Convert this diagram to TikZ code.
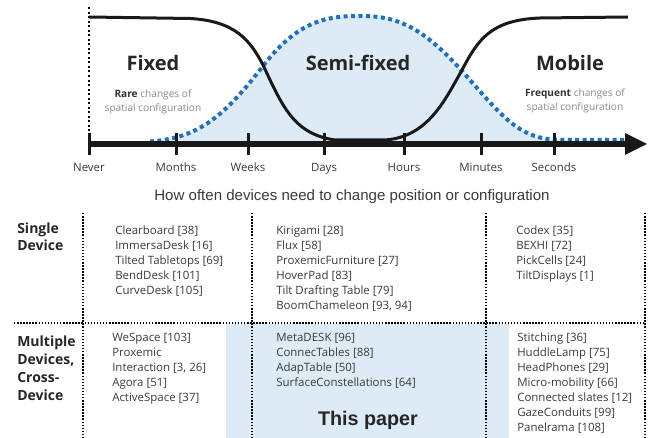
\documentclass[tikz,border=0pt]{standalone}
\usepackage{xcolor}
\usepackage{fontspec}
\setmainfont{Open Sans}
\newfontfamily\arialfont{Liberation Sans}
\usepackage{tikz}

\definecolor{dotblue}{HTML}{1F70C1}
\definecolor{paleblue}{HTML}{DDEBF6}
\definecolor{labelgray}{HTML}{3A3A3A}
\definecolor{notegray}{HTML}{8A8A8A}

\tikzset{
  refs/.style={anchor=north west, align=left, text=labelgray, font=\fontsize{8.6}{11.25}\selectfont},
  rowhead/.style={anchor=north west, align=left, text=black!85, font=\fontsize{10.5}{12.75}\selectfont\bfseries},
  zone/.style={anchor=base, text=black!85, font=\fontsize{15}{18}\selectfont\bfseries},
  note/.style={anchor=north, align=center, text=notegray, font=\fontsize{7.6}{10.5}\selectfont},
  ticklabel/.style={anchor=base, text=labelgray, font=\fontsize{8.6}{10}\selectfont},
  griddots/.style={line width=1.1pt, dash pattern=on 1.1pt off 1.2pt},
}

\begin{document}
\begin{tikzpicture}[x=0.75pt,y=0.75pt]
		\tikzstyle{every node}+=[inner sep=0pt]
		\useasboundingbox (0,0) rectangle (651,-438);
		% band under the semi-fixed curve
		\fill [paleblue] (150,-141.5) .. controls (200,-138) and (225,-115) .. (263,-66) .. controls (300,-18) and (330,-16) .. (362,-16) .. controls (400,-16) and (425,-30) .. (463,-72) .. controls (505,-120) and (520,-139) .. (560,-140) -- (627,-140) -- (627,-144) -- (150,-144) -- cycle;
		\draw [dotblue, line width=3pt, dash pattern=on 3pt off 2.6pt] (150,-141.5) .. controls (200,-138) and (225,-115) .. (263,-66) .. controls (300,-18) and (330,-16) .. (362,-16) .. controls (400,-16) and (425,-30) .. (463,-72) .. controls (505,-120) and (520,-139) .. (560,-140) -- (627,-140);
		% fixed / mobile curve
		\draw [black!90, line width=2.25pt] (89,-17) -- (190,-18.5) .. controls (235,-21) and (250,-40) .. (263,-65) .. controls (282,-105) and (293,-134) .. (335,-140) -- (385,-140) .. controls (428,-137) and (445,-100) .. (462,-70) .. controls (478,-40) and (490,-20) .. (540,-18) -- (628,-17);
		\draw [black, line width=1.5pt, dash pattern=on 1.5pt off 1.9pt] (89,-7) -- (89,-143);
		% axis
		\coordinate (axisstart) at (89,-144);
		\coordinate (axisend) at (626,-144);
		\draw [black!90, line width=4.5pt] (axisstart) -- (axisend);
		\fill [black!90] (647,-144) -- (625,-133) -- (625,-155) -- cycle;
		\draw [black!90, line width=2.25pt] (89,-133) -- (89,-155);
		\draw [black!90, line width=2.25pt] (176,-133) -- (176,-155);
		\draw [black!90, line width=2.25pt] (248,-133) -- (248,-155);
		\draw [black!90, line width=2.25pt] (324,-133) -- (324,-155);
		\draw [black!90, line width=2.25pt] (404,-133) -- (404,-155);
		\draw [black!90, line width=2.25pt] (481,-133) -- (481,-155);
		\draw [black!90, line width=2.25pt] (554,-133) -- (554,-155);
		\node [ticklabel] (never) at (89,-172) {Never};
		\node [ticklabel] (months) at (176,-172) {Months};
		\node [ticklabel] (weeks) at (248,-172) {Weeks};
		\node [ticklabel] (days) at (324,-172) {Days};
		\node [ticklabel] (hours) at (404,-172) {Hours};
		\node [ticklabel] (minutes) at (481,-172) {Minutes};
		\node [ticklabel] (seconds) at (554,-172) {Seconds};
		\node [anchor=base, text=labelgray, font=\arialfont\fontsize{11.3}{13}\selectfont] (axistitle) at (352,-201) {How often devices need to change position or configuration};
		% zones
		\node [zone] (fixed) at (153,-71) {Fixed};
		\node [note] (fixednote) at (153,-89) {\textcolor{black!80}{\bfseries Rare} changes of\\spatial configuration};
		\node [zone] (semifixed) at (358,-71) {Semi-fixed};
		\node [zone] (mobile) at (570,-71) {Mobile};
		\node [note] (mobilenote) at (575,-88) {\textcolor{black!80}{\bfseries Frequent} changes of\\spatial configuration};
		% table
		\fill [paleblue] (226,-324) rectangle (509,-438);
		\draw [griddots] (14,-323) -- (645,-323);
		\draw [griddots] (83,-213) -- (83,-438);
		\draw [griddots] (252,-213) -- (252,-438);
		\draw [griddots] (486,-213) -- (486,-438);
		\draw [griddots] (645,-213) -- (645,-438);
		\node [rowhead] (single) at (17,-223) {Single\\Device};
		\node [rowhead, font=\fontsize{10.5}{13.5}\selectfont\bfseries] (multiple) at (17,-336) {Multiple\\Devices,\\Cross-\\Device};
		\node [refs] (fixedsingle) at (115,-226) {Clearboard [38]\\ImmersaDesk [16]\\Tilted Tabletops [69]\\BendDesk [101]\\CurveDesk [105]};
		\node [refs] (semisingle) at (276,-226) {Kirigami [28]\\Flux [58]\\ProxemicFurniture [27]\\HoverPad [83]\\Tilt Drafting Table [79]\\BoomChameleon [93, 94]};
		\node [refs] (mobilesingle) at (516,-226) {Codex [35]\\BEXHI [72]\\PickCells [24]\\TiltDisplays [1]};
		\node [refs] (fixedmulti) at (112,-333) {WeSpace [103]\\Proxemic\\Interaction [3, 26]\\Agora [51]\\ActiveSpace [37]};
		\node [refs] (semimulti) at (276,-333) {MetaDESK [96]\\ConnecTables [88]\\AdapTable [50]\\SurfaceConstellations [64]};
		\node [refs] (mobilemulti) at (517,-333) {Stitching [36]\\HuddleLamp [75]\\HeadPhones [29]\\Micro-mobility [66]\\Connected slates [12]\\GazeConduits [99]\\Panelrama [108]};
		\node [anchor=base, text=black!85, font=\arialfont\bfseries\fontsize{14.8}{17}\selectfont] (thispaper) at (368,-426) {This paper};
	\end{tikzpicture}
\end{document}
